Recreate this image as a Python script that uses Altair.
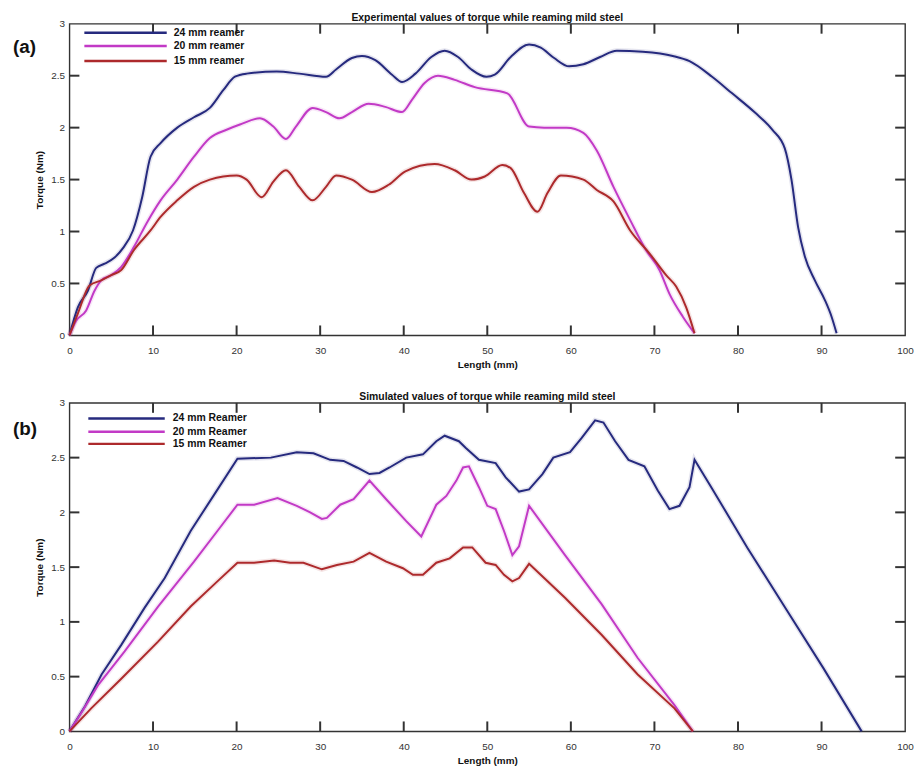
import altair as alt
import pandas as pd

SERIES = ["24 mm", "20 mm", "15 mm"]
COLORS = ["#262a7e", "#c23ac6", "#ad2a2c"]
X_TICKS = [0, 10, 20, 30, 40, 50, 60, 70, 80, 90, 100]
Y_TICKS = [0, 0.5, 1, 1.5, 2, 2.5, 3]

TITLE_A = "Experimental values of torque while reaming mild steel"
TITLE_B = "Simulated values of torque while reaming mild steel"
LEGEND_A = ["24 mm reamer", "20 mm reamer", "15 mm reamer"]
LEGEND_B = ["24 mm Reamer", "20 mm Reamer", "15 mm Reamer"]

# ---- (a) experimental ----
a24_x = [0, 1.0, 2.2, 3.2, 4.2, 5.4, 6.4, 7.6, 8.7, 9.7, 10.9, 12.9, 14.9, 16.8, 18.4, 19.8, 21.2, 24.8, 27.5,
         30.7, 31.9, 33.8, 35.0, 36.6, 38.6, 39.8, 41.4, 43.3, 44.9, 46.5, 48.1, 49.9, 50.9, 52.8, 55.0, 56.4,
         58.0, 59.8, 61.5, 63.5, 65.5, 68.6, 72.2, 74.2, 76.9, 79.3, 82.1, 84.1, 85.6, 86.4, 87.2, 88.0, 89.2,
         90.4, 91.2, 91.8]
a24_y = [0, 0.27, 0.43, 0.65, 0.69, 0.75, 0.84, 1.01, 1.33, 1.72, 1.85, 2.0, 2.1, 2.19, 2.36, 2.49, 2.52, 2.54,
         2.52, 2.49, 2.56, 2.67, 2.69, 2.65, 2.51, 2.44, 2.52, 2.68, 2.74, 2.68, 2.56, 2.49, 2.51, 2.68, 2.80,
         2.77, 2.67, 2.59, 2.61, 2.68, 2.74, 2.73, 2.69, 2.64, 2.49, 2.33, 2.14, 1.98, 1.80, 1.50, 1.04, 0.76,
         0.53, 0.34, 0.18, 0.02]
a20_x = [0, 0.8, 2.0, 3.0, 3.8, 5.0, 6.2, 7.7, 9.3, 10.9, 12.9, 14.9, 16.8, 18.8, 20.4, 22.8, 24.4, 25.9, 27.1,
         29.1, 30.7, 32.3, 33.8, 35.8, 37.8, 39.8, 41.0, 42.5, 44.1, 46.1, 48.5, 52.4, 55.0, 56.8, 59.5, 61.5,
         63.1, 65.1, 67.1, 69.0, 70.6, 71.8, 73.4, 74.8]
a20_y = [0, 0.14, 0.24, 0.43, 0.53, 0.58, 0.66, 0.85, 1.09, 1.30, 1.50, 1.72, 1.90, 1.98, 2.03, 2.09, 2.01, 1.89,
         2.01, 2.19, 2.15, 2.09, 2.15, 2.23, 2.20, 2.15, 2.27, 2.43, 2.50, 2.46, 2.39, 2.33, 2.01, 2.0, 2.0,
         1.95, 1.78, 1.43, 1.11, 0.82, 0.63, 0.40, 0.18, 0.02]
a15_x = [0, 1.0, 2.4, 3.8, 5.0, 6.2, 7.7, 9.7, 10.9, 12.9, 14.9, 16.8, 20.0, 21.2, 23.0, 24.4, 25.9, 27.5, 29.1,
         30.7, 31.9, 33.8, 36.2, 38.2, 40.2, 43.7, 46.1, 48.1, 49.7, 51.8, 52.8, 54.4, 56.0, 57.2, 58.8, 61.5,
         63.1, 65.1, 67.1, 69.4, 71.4, 72.6, 73.8, 74.8]
a15_y = [0, 0.21, 0.48, 0.53, 0.58, 0.63, 0.82, 1.01, 1.14, 1.30, 1.43, 1.50, 1.54, 1.50, 1.33, 1.48, 1.59, 1.43,
         1.30, 1.43, 1.54, 1.50, 1.38, 1.45, 1.58, 1.65, 1.59, 1.50, 1.53, 1.64, 1.61, 1.37, 1.19, 1.37, 1.54,
         1.50, 1.40, 1.29, 1.01, 0.79, 0.58, 0.47, 0.27, 0.02]

# ---- (b) simulated ----
b24_x = [0, 1.86, 3.84, 6.2, 9.0, 11.4, 14.5, 17.3, 20.1, 24.1, 27.2, 29.2, 31.2, 32.8, 34.4, 35.9, 37.1, 38.3,
         40.3, 42.3, 43.9, 44.9, 46.6, 47.4, 49.0, 51.0, 52.2, 53.8, 55.0, 56.6, 57.9, 59.9, 61.3, 62.9, 63.9,
         65.3, 66.9, 68.8, 70.4, 71.8, 73.0, 74.2, 74.8, 76.8, 81.1, 85.9, 90.2, 94.8]
b24_y = [0, 0.23, 0.52, 0.79, 1.13, 1.40, 1.83, 2.16, 2.49, 2.50, 2.55, 2.54, 2.48, 2.47, 2.41, 2.35, 2.36, 2.41,
         2.50, 2.53, 2.65, 2.70, 2.65, 2.59, 2.48, 2.45, 2.32, 2.19, 2.21, 2.35, 2.50, 2.55, 2.68, 2.84, 2.82,
         2.65, 2.48, 2.42, 2.20, 2.03, 2.06, 2.23, 2.48, 2.23, 1.68, 1.10, 0.58, 0.0]
b20_x = [0, 1.5, 3.4, 6.6, 10.6, 14.9, 17.7, 20.1, 22.1, 24.9, 27.2, 28.8, 30.2, 30.8, 32.4, 34.0, 35.9, 37.9,
         40.3, 42.1, 43.9, 45.1, 46.3, 47.1, 47.8, 49.0, 50.0, 51.0, 52.0, 53.0, 53.8, 55.0, 59.3, 63.7, 68.0,
         72.4, 74.6]
b20_y = [0, 0.18, 0.42, 0.73, 1.14, 1.55, 1.83, 2.07, 2.07, 2.13, 2.06, 2.0, 1.94, 1.95, 2.07, 2.12, 2.29, 2.12,
         1.92, 1.78, 2.07, 2.15, 2.29, 2.41, 2.42, 2.23, 2.06, 2.03, 1.83, 1.61, 1.69, 2.06, 1.61, 1.16, 0.67,
         0.24, 0.0]
b15_x = [0, 2.6, 6.2, 10.6, 14.5, 17.7, 20.1, 22.1, 24.5, 26.4, 28.0, 30.2, 32.0, 34.0, 35.9, 37.9, 39.9, 41.1,
         42.3, 43.9, 45.5, 47.1, 48.2, 49.8, 51.0, 52.0, 53.0, 53.8, 55.0, 59.3, 63.7, 68.0, 72.4, 74.6]
b15_y = [0, 0.21, 0.48, 0.82, 1.14, 1.37, 1.54, 1.54, 1.56, 1.54, 1.54, 1.48, 1.52, 1.55, 1.63, 1.55, 1.49, 1.43,
         1.43, 1.54, 1.58, 1.68, 1.68, 1.54, 1.52, 1.43, 1.37, 1.40, 1.53, 1.22, 0.88, 0.52, 0.21, 0.0]

FONT = "Liberation Sans"
W = 842
TICK_PX = 10
FRAME = "#333"
X_MIN, X_MAX, Y_MIN, Y_MAX = 0, 100, 0, 3

XS = alt.Scale(domain=[X_MIN, X_MAX], nice=False)
YS = alt.Scale(domain=[Y_MIN, Y_MAX], nice=False)
CS = alt.Scale(domain=SERIES + ["frame"], range=COLORS + [FRAME])
SW = alt.Scale(domain=SERIES + ["frame"], range=[2, 2, 2, 1.5])


def panel_df(xs_list, ys_list, H):
    rows = []
    for s, xs, ys in zip(SERIES, xs_list, ys_list):
        for i, (x, y) in enumerate(zip(xs, ys)):
            rows.append({"series": s, "grp": s, "length": x, "torque": y, "i": i})
    # inward tick marks on all four sides, as 2-point segments in data units
    ty = TICK_PX * (Y_MAX - Y_MIN) / H
    tx = TICK_PX * (X_MAX - X_MIN) / W
    tid = 0
    for v in X_TICKS[1:-1]:
        for y0, y1 in ((Y_MIN, Y_MIN + ty), (Y_MAX, Y_MAX - ty)):
            g = "t%d" % tid
            rows.append({"series": "frame", "grp": g, "length": v, "torque": y0, "i": 0})
            rows.append({"series": "frame", "grp": g, "length": v, "torque": y1, "i": 1})
            tid += 1
    for v in Y_TICKS[1:-1]:
        for x0, x1 in ((X_MIN, X_MIN + tx), (X_MAX, X_MAX - tx)):
            g = "t%d" % tid
            rows.append({"series": "frame", "grp": g, "length": x0, "torque": v, "i": 0})
            rows.append({"series": "frame", "grp": g, "length": x1, "torque": v, "i": 1})
            tid += 1
    return pd.DataFrame(rows)


def panel(df, title, tag, labels, H, interp, leg_ys, leg_x0, leg_x1, text_x, tag_y):
    x_axis = alt.Axis(values=X_TICKS, title="Length (mm)", labelExpr="'' + datum.value",
                      ticks=False, domain=False, grid=False, labelPadding=10, labelFontSize=10,
                      labelFont=FONT, labelColor="#333", titleFont=FONT, titleFontSize=10,
                      titleFontWeight="bold", titleColor="#111", titlePadding=4, labelFlush=False)
    y_axis = alt.Axis(values=Y_TICKS, title="Torque (Nm)", labelExpr="'' + datum.value",
                      ticks=False, domain=False, grid=False, labelPadding=5, labelFontSize=10,
                      labelFont=FONT, labelColor="#333", titleFont=FONT, titleFontSize=10,
                      titleFontWeight="bold", titleColor="#111", titlePadding=6, labelFlush=False)
    color = alt.Color("series:N", scale=CS, legend=None)
    halo = alt.Chart(df).transform_filter(alt.datum.series != "frame").mark_line(
        strokeWidth=5, opacity=0.12, interpolate=interp).encode(
        x=alt.X("length:Q", scale=XS, axis=x_axis),
        y=alt.Y("torque:Q", scale=YS, axis=y_axis),
        color=color, detail="grp:N", order="i:Q",
    )
    lines = alt.Chart(df).mark_line(interpolate=interp).encode(
        x=alt.X("length:Q", scale=XS),
        y=alt.Y("torque:Q", scale=YS),
        color=color,
        strokeWidth=alt.StrokeWidth("series:N", scale=SW, legend=None),
        detail="grp:N", order="i:Q",
    )
    layers = [halo, lines]
    for lab, col, ly in zip(labels, COLORS, leg_ys):
        one = pd.DataFrame({"t": [lab]})
        layers.append(alt.Chart(one).mark_rule(color=col, strokeWidth=2.5).encode(
            x=alt.value(leg_x0), x2=alt.value(leg_x1), y=alt.value(ly)))
        layers.append(alt.Chart(one).mark_text(align="left", baseline="middle", font=FONT,
                                               fontSize=10.5, fontWeight="bold", color="#111").encode(
            text="t:N", x=alt.value(text_x), y=alt.value(ly)))
    layers.append(alt.Chart(pd.DataFrame({"t": [tag]})).mark_text(
        align="left", baseline="middle", font=FONT, fontSize=19, fontWeight="bold", color="#111").encode(
        text="t:N", x=alt.value(-57), y=alt.value(tag_y)))
    return alt.layer(*layers).properties(
        width=W, height=H,
        title=alt.TitleParams(text=title, font=FONT, fontSize=10.5, fontWeight="bold", color="#111",
                              offset=-5, anchor="middle"))


HA, HB = 314, 331
df_a = panel_df([a24_x, a20_x, a15_x], [a24_y, a20_y, a15_y], HA)
df_b = panel_df([b24_x, b20_x, b15_x], [b24_y, b20_y, b15_y], HB)

pa = panel(df_a, TITLE_A, "(a)", LEGEND_A, HA, "monotone", [9, 22.5, 37.5], 15, 98, 105, 23)
pb = panel(df_b, TITLE_B, "(b)", LEGEND_B, HB, "linear", [15.7, 29, 41.3], 19, 96, 104, 26)

chart = alt.vconcat(pa, pb, spacing=21).properties(
    padding={"left": 12, "top": 9, "right": 5, "bottom": 5}
).configure_view(stroke=FRAME, strokeWidth=1.4)

chart.save("out.html", embed_options={"renderer": "svg", "actions": False})
